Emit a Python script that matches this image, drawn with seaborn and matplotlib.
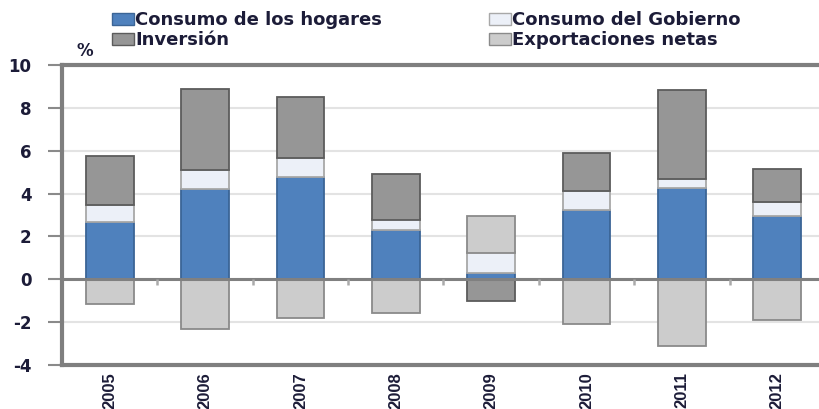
import numpy as np
import pandas as pd
import matplotlib
matplotlib.use("Agg")
import matplotlib.pyplot as plt
import seaborn as sns

years = ["2005", "2006", "2007", "2008", "2009", "2010", "2011", "2012"]
hogares = [2.67, 4.19, 4.76, 2.29, 0.31, 3.22, 4.26, 2.95]
gobierno = [0.78, 0.90, 0.90, 0.50, 0.94, 0.90, 0.41, 0.65]
inversion = [2.30, 3.78, 2.85, 2.11, -1.01, 1.78, 4.15, 1.53]
exportaciones = [-1.13, -2.32, -1.82, -1.59, 1.70, -2.07, -3.11, -1.91]

series_names = ["Consumo de los hogares", "Consumo del Gobierno",
                "Inversión", "Exportaciones netas"]
series_vals = [hogares, gobierno, inversion, exportaciones]
face = ["#4f81bd", "#ecf0f8", "#969696", "#cccccc"]
edge = ["#3b6596", "#a8a8a8", "#5c5c5c", "#8a8a8a"]

sns.set_style("white")
plt.rcParams["axes.unicode_minus"] = False
txt = "#1c1c38"

fig = plt.figure(figsize=(8.2, 4.09), dpi=100)
W, H = 820, 409
ax = fig.add_axes([62 / W, 44 / H, (820 - 62) / W, 300 / H])

pos_base = np.zeros(len(years))
neg_base = np.zeros(len(years))
handles = []
for name, vals, fc, ec in zip(series_names, series_vals, face, edge):
    v = np.array(vals, dtype=float)
    bottom = np.where(v >= 0, pos_base, neg_base)
    df = pd.DataFrame({"year": years, "val": v})
    sns.barplot(data=df, x="year", y="val", ax=ax, color=fc, width=0.5,
                bottom=bottom, edgecolor=ec, linewidth=1.3, saturation=1,
                errorbar=None, zorder=3)
    pos_base = pos_base + np.where(v >= 0, v, 0)
    neg_base = neg_base + np.where(v < 0, v, 0)
    handles.append(matplotlib.patches.Patch(facecolor=fc, edgecolor=ec,
                                            linewidth=1.0, label=name))

ax.set_ylim(-4, 10)
ax.set_xlim(-0.5, 7.449)
ax.set_yticks([-4, -2, 0, 2, 4, 6, 8, 10])
ax.yaxis.grid(True, color="#e3e3e3", linewidth=1.5, zorder=0)
ax.xaxis.grid(False)
ax.set_axisbelow(True)
ax.axhline(0, color="#808080", linewidth=2.2, zorder=4)
bounds = np.arange(len(years) + 1) - 0.5
ax.vlines(bounds[1:-1], -0.28, 0, color="#aaaaaa", linewidth=1.8, zorder=4)

for s in ["left", "top", "bottom"]:
    ax.spines[s].set_color("#7f7f7f")
    ax.spines[s].set_linewidth(3)
ax.spines["right"].set_visible(False)

ax.set_xlabel("")
ax.set_ylabel("")
ax.tick_params(axis="y", length=10, width=1.5, color="#8a8a8a", pad=12,
               left=True, labelsize=12, labelcolor=txt)
for t in ax.get_yticklabels():
    t.set_fontweight("bold")
    t.set_family("DejaVu Sans")
ax.tick_params(axis="x", length=0, pad=5, labelsize=12, labelcolor=txt)
ax.set_xticks(range(len(years)))
ax.set_xticklabels(years, rotation=90, family="Liberation Sans",
                   fontweight="bold")

fig.text(85 / W, 1 - 51 / H, "%", ha="center", va="center", fontsize=12,
         fontweight="bold", color=txt, family="DejaVu Sans")

order = [handles[0], handles[2], handles[1], handles[3]]
leg = fig.legend(handles=order, labels=[h.get_label() for h in order],
                 loc="upper left", bbox_to_anchor=(112 / W, 1 - 11 / H),
                 ncol=2, frameon=False, borderpad=0, borderaxespad=0,
                 handlelength=1.2, handleheight=0.65, handletextpad=0.1,
                 columnspacing=5.9, labelspacing=0.12,
                 prop={"family": "DejaVu Sans", "weight": "bold", "size": 13})
for t in leg.get_texts():
    t.set_color(txt)

fig.savefig("out.png", dpi=100)
